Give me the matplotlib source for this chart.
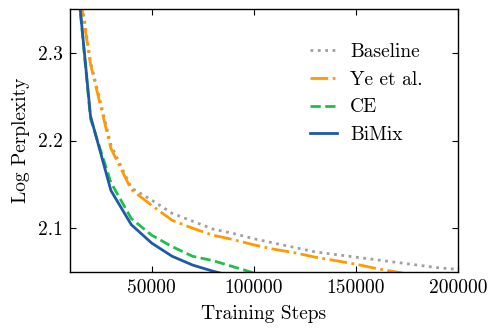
import matplotlib
matplotlib.use("Agg")
import matplotlib.pyplot as plt

steps = [10000, 20000, 30000, 40000, 50000, 60000, 70000, 80000, 90000, 100000,
         110000, 120000, 130000, 140000, 150000, 160000, 170000, 180000, 190000, 200000]
baseline = [2.45, 2.290, 2.195, 2.146, 2.132, 2.117, 2.108, 2.099, 2.094, 2.088,
            2.083, 2.078, 2.073, 2.070, 2.067, 2.064, 2.061, 2.058, 2.055, 2.053]
ye = [2.44, 2.287, 2.191, 2.144, 2.126, 2.109, 2.100, 2.092, 2.087, 2.081,
      2.076, 2.072, 2.067, 2.063, 2.059, 2.054, 2.050, 2.046]
ce = [2.47, 2.225, 2.152, 2.111, 2.092, 2.079, 2.068, 2.063, 2.056, 2.049]
bimix = [2.47, 2.228, 2.143, 2.104, 2.083, 2.068, 2.058, 2.051, 2.045]

plt.rcParams['font.family'] = ['cmr10', 'DejaVu Serif']
plt.rcParams['mathtext.fontset'] = 'cm'
plt.rcParams['axes.formatter.use_mathtext'] = True
plt.rcParams['axes.unicode_minus'] = False

fig = plt.figure(figsize=(4.97, 3.33), dpi=100)
ax = fig.add_axes([0.141, 0.183, 0.7805, 0.79])

ax.plot(steps[:len(baseline)], baseline, ':', color='#a0a0a0', lw=2, label='Baseline')
ax.plot(steps[:len(ye)], ye, '-.', color='#ff9a00', lw=2, label='Ye et al.')
ax.plot(steps[:len(ce)], ce, '--', color='#1fbf4a', lw=2, label='CE')
ax.plot(steps[:len(bimix)], bimix, '-', color='#1f5aa6', lw=2, label='BiMix')

ax.set_xlim(10000, 200000)
ax.set_ylim(2.05, 2.35)
ax.set_xticks([50000, 100000, 150000, 200000])
ax.set_yticks([2.1, 2.2, 2.3])
ax.set_yticklabels(['2.1', '2.2', '2.3'])
ax.set_xticklabels(['50000', '100000', '150000', '200000'])
ax.tick_params(direction='in', top=True, right=True, length=4, width=0.8,
               labelsize=14, pad=5)
for s in ax.spines.values():
    s.set_linewidth(1.0)

ax.set_xlabel('Training Steps', fontsize=14, labelpad=6)
ax.set_ylabel('Log Perplexity', fontsize=14, labelpad=6)

ax.legend(loc='upper left', frameon=False, fontsize=14, handlelength=1.4,
          handletextpad=0.65, labelspacing=0.5, borderpad=0, borderaxespad=0,
          bbox_to_anchor=(0.619, 0.87))

fig.savefig('out.png', dpi=100)
